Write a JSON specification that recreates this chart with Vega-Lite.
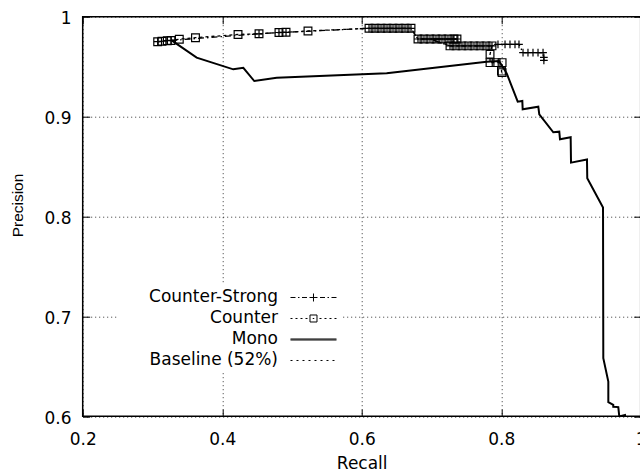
{
  "$schema": "https://vega.github.io/schema/vega-lite/v6.json",
  "width": 558,
  "height": 399.5,
  "autosize": {"type": "none"},
  "padding": {"left": 82.7, "top": 16.7, "right": 0, "bottom": 55.8},
  "background": "white",
  "config": {
    "view": {"stroke": "#000", "strokeWidth": 1.5},
    "font": "DejaVu Sans",
    "axis": {
      "labelFont": "DejaVu Sans",
      "labelFontSize": 17,
      "labelColor": "#000",
      "titleFont": "DejaVu Sans",
      "titleFontSize": 17,
      "titleFontWeight": "normal",
      "titleColor": "#000",
      "domain": false,
      "tickColor": "#000",
      "tickSize": -7,
      "tickWidth": 1,
      "gridColor": "#000",
      "gridDash": [1, 3],
      "gridOpacity": 0.8,
      "gridWidth": 1,
      "labelFlush": false,
      "labelOverlap": false
    }
  },
  "data": {
    "values": [
      {"series": "Mono", "i": 1, "recall": 0.328, "precision": 0.976},
      {"series": "Mono", "i": 2, "recall": 0.3634, "precision": 0.959},
      {"series": "Mono", "i": 3, "recall": 0.4159, "precision": 0.9473},
      {"series": "Mono", "i": 4, "recall": 0.4303, "precision": 0.9489},
      {"series": "Mono", "i": 5, "recall": 0.446, "precision": 0.9356},
      {"series": "Mono", "i": 6, "recall": 0.4781, "precision": 0.9389},
      {"series": "Mono", "i": 7, "recall": 0.6358, "precision": 0.9433},
      {"series": "Mono", "i": 8, "recall": 0.7792, "precision": 0.955},
      {"series": "Mono", "i": 9, "recall": 0.7969, "precision": 0.9557},
      {"series": "Mono", "i": 10, "recall": 0.8079, "precision": 0.9433},
      {"series": "Mono", "i": 11, "recall": 0.8237, "precision": 0.9149},
      {"series": "Mono", "i": 12, "recall": 0.8303, "precision": 0.9156},
      {"series": "Mono", "i": 13, "recall": 0.8308, "precision": 0.9073},
      {"series": "Mono", "i": 14, "recall": 0.8532, "precision": 0.9099},
      {"series": "Mono", "i": 15, "recall": 0.8546, "precision": 0.9023},
      {"series": "Mono", "i": 16, "recall": 0.8747, "precision": 0.8843},
      {"series": "Mono", "i": 17, "recall": 0.8833, "precision": 0.8849},
      {"series": "Mono", "i": 18, "recall": 0.8843, "precision": 0.8773},
      {"series": "Mono", "i": 19, "recall": 0.8996, "precision": 0.8793},
      {"series": "Mono", "i": 20, "recall": 0.9001, "precision": 0.8539},
      {"series": "Mono", "i": 21, "recall": 0.923, "precision": 0.8571},
      {"series": "Mono", "i": 22, "recall": 0.9234, "precision": 0.8383},
      {"series": "Mono", "i": 23, "recall": 0.946, "precision": 0.809},
      {"series": "Mono", "i": 24, "recall": 0.9464, "precision": 0.6581},
      {"series": "Mono", "i": 25, "recall": 0.9536, "precision": 0.6347},
      {"series": "Mono", "i": 26, "recall": 0.9536, "precision": 0.6141},
      {"series": "Mono", "i": 27, "recall": 0.9607, "precision": 0.6114},
      {"series": "Mono", "i": 28, "recall": 0.9607, "precision": 0.6094},
      {"series": "Mono", "i": 29, "recall": 0.9679, "precision": 0.6091},
      {"series": "Mono", "i": 30, "recall": 0.9693, "precision": 0.5998},
      {"series": "Mono", "i": 31, "recall": 0.9775, "precision": 0.6013},
      {"series": "Mono", "i": 32, "recall": 0.979, "precision": 0.591},

      {"series": "Counter", "i": 1, "recall": 0.3075, "precision": 0.975},
      {"series": "Counter", "i": 2, "recall": 0.3137, "precision": 0.9754},
      {"series": "Counter", "i": 3, "recall": 0.3213, "precision": 0.976},
      {"series": "Counter", "i": 4, "recall": 0.3266, "precision": 0.9762},
      {"series": "Counter", "i": 5, "recall": 0.3385, "precision": 0.9775},
      {"series": "Counter", "i": 6, "recall": 0.3617, "precision": 0.979},
      {"series": "Counter", "i": 7, "recall": 0.4227, "precision": 0.9822},
      {"series": "Counter", "i": 8, "recall": 0.4528, "precision": 0.9829},
      {"series": "Counter", "i": 9, "recall": 0.4814, "precision": 0.9842},
      {"series": "Counter", "i": 10, "recall": 0.4915, "precision": 0.9844},
      {"series": "Counter", "i": 11, "recall": 0.523, "precision": 0.9857},
      {"series": "Counter", "i": 12, "recall": 0.6105, "precision": 0.9884},
      {"series": "Counter", "i": 13, "recall": 0.6191, "precision": 0.9884},
      {"series": "Counter", "i": 14, "recall": 0.6277, "precision": 0.9884},
      {"series": "Counter", "i": 15, "recall": 0.6363, "precision": 0.9884},
      {"series": "Counter", "i": 16, "recall": 0.6449, "precision": 0.9884},
      {"series": "Counter", "i": 17, "recall": 0.6535, "precision": 0.9884},
      {"series": "Counter", "i": 18, "recall": 0.6621, "precision": 0.9884},
      {"series": "Counter", "i": 19, "recall": 0.6707, "precision": 0.9884},
      {"series": "Counter", "i": 20, "recall": 0.6807, "precision": 0.9777},
      {"series": "Counter", "i": 21, "recall": 0.6893, "precision": 0.9777},
      {"series": "Counter", "i": 22, "recall": 0.7065, "precision": 0.9777},
      {"series": "Counter", "i": 23, "recall": 0.7151, "precision": 0.9777},
      {"series": "Counter", "i": 24, "recall": 0.7237, "precision": 0.9777},
      {"series": "Counter", "i": 25, "recall": 0.7323, "precision": 0.9777},
      {"series": "Counter", "i": 26, "recall": 0.7366, "precision": 0.9777},
      {"series": "Counter", "i": 27, "recall": 0.6979, "precision": 0.9777},
      {"series": "Counter", "i": 28, "recall": 0.7266, "precision": 0.9708},
      {"series": "Counter", "i": 29, "recall": 0.7352, "precision": 0.9708},
      {"series": "Counter", "i": 30, "recall": 0.7438, "precision": 0.9708},
      {"series": "Counter", "i": 31, "recall": 0.7524, "precision": 0.9708},
      {"series": "Counter", "i": 32, "recall": 0.761, "precision": 0.9708},
      {"series": "Counter", "i": 33, "recall": 0.7696, "precision": 0.9708},
      {"series": "Counter", "i": 34, "recall": 0.7782, "precision": 0.9708},
      {"series": "Counter", "i": 35, "recall": 0.7868, "precision": 0.9708},
      {"series": "Counter", "i": 36, "recall": 0.784, "precision": 0.9624},
      {"series": "Counter", "i": 37, "recall": 0.784, "precision": 0.954},
      {"series": "Counter", "i": 38, "recall": 0.7927, "precision": 0.954},
      {"series": "Counter", "i": 39, "recall": 0.8013, "precision": 0.954},
      {"series": "Counter", "i": 40, "recall": 0.8004, "precision": 0.9455},
      {"series": "Counter", "i": 41, "recall": 0.8013, "precision": 0.944},

      {"series": "Counter-Strong", "i": 1, "recall": 0.3075, "precision": 0.975},
      {"series": "Counter-Strong", "i": 2, "recall": 0.3213, "precision": 0.976},
      {"series": "Counter-Strong", "i": 3, "recall": 0.3266, "precision": 0.9762},
      {"series": "Counter-Strong", "i": 4, "recall": 0.4528, "precision": 0.9829},
      {"series": "Counter-Strong", "i": 5, "recall": 0.4814, "precision": 0.9842},
      {"series": "Counter-Strong", "i": 6, "recall": 0.4915, "precision": 0.9844},
      {"series": "Counter-Strong", "i": 7, "recall": 0.6105, "precision": 0.9884},
      {"series": "Counter-Strong", "i": 8, "recall": 0.6191, "precision": 0.9884},
      {"series": "Counter-Strong", "i": 9, "recall": 0.6277, "precision": 0.9884},
      {"series": "Counter-Strong", "i": 10, "recall": 0.6363, "precision": 0.9884},
      {"series": "Counter-Strong", "i": 11, "recall": 0.6449, "precision": 0.9884},
      {"series": "Counter-Strong", "i": 12, "recall": 0.6535, "precision": 0.9884},
      {"series": "Counter-Strong", "i": 13, "recall": 0.6621, "precision": 0.9884},
      {"series": "Counter-Strong", "i": 14, "recall": 0.6707, "precision": 0.9884},
      {"series": "Counter-Strong", "i": 15, "recall": 0.6807, "precision": 0.9777},
      {"series": "Counter-Strong", "i": 16, "recall": 0.6893, "precision": 0.9777},
      {"series": "Counter-Strong", "i": 17, "recall": 0.7065, "precision": 0.9777},
      {"series": "Counter-Strong", "i": 18, "recall": 0.7151, "precision": 0.9777},
      {"series": "Counter-Strong", "i": 19, "recall": 0.7237, "precision": 0.9777},
      {"series": "Counter-Strong", "i": 20, "recall": 0.7323, "precision": 0.9777},
      {"series": "Counter-Strong", "i": 21, "recall": 0.7366, "precision": 0.9777},
      {"series": "Counter-Strong", "i": 22, "recall": 0.6979, "precision": 0.9777},
      {"series": "Counter-Strong", "i": 23, "recall": 0.7266, "precision": 0.9708},
      {"series": "Counter-Strong", "i": 24, "recall": 0.7352, "precision": 0.9708},
      {"series": "Counter-Strong", "i": 25, "recall": 0.7438, "precision": 0.9708},
      {"series": "Counter-Strong", "i": 26, "recall": 0.7524, "precision": 0.9708},
      {"series": "Counter-Strong", "i": 27, "recall": 0.761, "precision": 0.9708},
      {"series": "Counter-Strong", "i": 28, "recall": 0.7696, "precision": 0.9708},
      {"series": "Counter-Strong", "i": 29, "recall": 0.7782, "precision": 0.9708},
      {"series": "Counter-Strong", "i": 30, "recall": 0.7868, "precision": 0.9708},
      {"series": "Counter-Strong", "i": 31, "recall": 0.7954, "precision": 0.9722},
      {"series": "Counter-Strong", "i": 32, "recall": 0.8055, "precision": 0.9722},
      {"series": "Counter-Strong", "i": 33, "recall": 0.8126, "precision": 0.9722},
      {"series": "Counter-Strong", "i": 34, "recall": 0.8198, "precision": 0.9722},
      {"series": "Counter-Strong", "i": 35, "recall": 0.8255, "precision": 0.9722},
      {"series": "Counter-Strong", "i": 36, "recall": 0.8313, "precision": 0.964},
      {"series": "Counter-Strong", "i": 37, "recall": 0.8384, "precision": 0.964},
      {"series": "Counter-Strong", "i": 38, "recall": 0.8456, "precision": 0.964},
      {"series": "Counter-Strong", "i": 39, "recall": 0.8528, "precision": 0.964},
      {"series": "Counter-Strong", "i": 40, "recall": 0.86, "precision": 0.964},
      {"series": "Counter-Strong", "i": 41, "recall": 0.8612, "precision": 0.9592},
      {"series": "Counter-Strong", "i": 42, "recall": 0.8612, "precision": 0.9562},

      {"series": "Baseline (52%)", "i": 1, "recall": 0.2, "precision": 0.52},
      {"series": "Baseline (52%)", "i": 2, "recall": 1.0, "precision": 0.52}
    ]
  },
  "resolve": {
    "axis": {"x": "independent", "y": "independent"},
    "scale": {"shape": "independent"},
    "legend": {"shape": "independent"}
  },
  "layer": [
    {
      "transform": [{"filter": {"field": "series", "equal": "Mono"}}],
      "mark": {"type": "line", "clip": true, "color": "#000", "strokeWidth": 2},
      "encoding": {
        "x": {
          "field": "recall", "type": "quantitative",
          "scale": {"domain": [0.2, 1], "nice": false, "zero": false},
          "axis": {
            "orient": "bottom", "values": [0.2, 0.4, 0.6, 0.8, 1], "format": "~g",
            "title": "Recall", "titleY": 52.5, "titleBaseline": "alphabetic",
            "labelPadding": 22.5, "grid": true
          }
        },
        "y": {
          "field": "precision", "type": "quantitative",
          "scale": {"domain": [0.6, 1], "nice": false, "zero": false},
          "axis": {
            "orient": "left", "values": [0.6, 0.7, 0.8, 0.9, 1], "format": "~g",
            "title": "Precision", "titleFont": "Liberation Sans", "titleFontSize": 15.5,
            "titleX": -60.2, "titleY": 188.3, "titleAngle": -90,
            "titleAlign": "center", "titleBaseline": "alphabetic",
            "labelPadding": 18.7, "labelOffset": 2, "grid": true
          }
        },
        "order": {"field": "i", "type": "quantitative"}
      }
    },
    {
      "transform": [{"filter": {"field": "series", "oneOf": ["Counter-Strong", "Counter", "Baseline (52%)"]}}],
      "mark": {"type": "line", "clip": true, "color": "#000", "strokeWidth": 1.3},
      "encoding": {
        "x": {"field": "recall", "type": "quantitative", "scale": {"domain": [0.2, 1], "nice": false, "zero": false}, "axis": null},
        "y": {"field": "precision", "type": "quantitative", "scale": {"domain": [0.6, 1], "nice": false, "zero": false}, "axis": null},
        "strokeDash": {
          "field": "series", "type": "nominal",
          "scale": {
            "domain": ["Counter-Strong", "Counter", "Baseline (52%)"],
            "range": [[6, 3, 1.5, 3], [3, 3], [2, 4]]
          },
          "legend": null
        },
        "order": {"field": "i", "type": "quantitative"}
      }
    },
    {
      "transform": [{"filter": {"field": "series", "oneOf": ["Counter", "Counter-Strong"]}}],
      "mark": {"type": "point", "filled": false, "clip": true, "color": "#000", "strokeWidth": 1.2, "size": 60, "opacity": 1},
      "encoding": {
        "x": {
          "field": "recall", "type": "quantitative",
          "scale": {"domain": [0.2, 1], "nice": false, "zero": false},
          "axis": {"orient": "top", "values": [0.2, 0.4, 0.6, 0.8, 1], "labels": false, "grid": false, "title": null}
        },
        "y": {
          "field": "precision", "type": "quantitative",
          "scale": {"domain": [0.6, 1], "nice": false, "zero": false},
          "axis": {"orient": "right", "values": [0.6, 0.7, 0.8, 0.9, 1], "labels": false, "grid": false, "title": null}
        },
        "shape": {
          "field": "series", "type": "nominal",
          "scale": {"domain": ["Counter-Strong", "Counter"], "range": ["M-1,0H1M0,-1V1", "square"]},
          "legend": null
        }
      }
    },
    {
      "transform": [{"filter": {"field": "series", "equal": "Baseline (52%)"}}],
      "mark": {"type": "point", "filled": false, "clip": true, "color": "#000", "strokeWidth": 1, "size": 100, "opacity": 1},
      "encoding": {
        "x": {"field": "recall", "type": "quantitative", "scale": {"domain": [0.2, 1], "nice": false, "zero": false}, "axis": null},
        "y": {"field": "precision", "type": "quantitative", "scale": {"domain": [0.6, 1], "nice": false, "zero": false}, "axis": null},
        "shape": {
          "field": "series", "type": "nominal",
          "scale": {
            "domain": ["Counter-Strong", "Counter", "Mono", "Baseline (52%)"],
            "range": [
              "M-4.6,0H-3.6M-3.1,0H-2.8M-2.3,0H-1.3M-0.8,0H0.8M1.3,0H2.3M2.8,0H3.1M3.6,0H4.6M0,-0.8V0.8",
              "M-4.6,0H-4.2M-3.6,0H-3.2M-2.6,0H-2.2M-1.6,0H-1.2M-0.7,-0.7H0.7V0.7H-0.7ZM-0.15,0H0.15M1.2,0H1.6M2.2,0H2.6M3.2,0H3.6M4.2,0H4.6",
              "M-4.6,-0.1H4.6M-4.6,0.1H4.6",
              "M-4.6,0H-4.2M-3.4,0H-3.0M-2.2,0H-1.8M-1.0,0H-0.6M0.2,0H0.6M1.4,0H1.8M2.6,0H3.0M3.8,0H4.2"
            ]
          },
          "legend": {
            "orient": "none", "legendX": 34.3, "legendY": 268.3, "title": null,
            "padding": 4, "fillColor": "white", "rowPadding": 3,
            "symbolOffset": 184, "labelOffset": -44, "labelAlign": "right",
            "labelFont": "DejaVu Sans", "labelFontSize": 17, "labelColor": "#000",
            "labelLimit": 300, "symbolSize": 100, "symbolStrokeWidth": 1,
            "symbolStrokeColor": "#000", "symbolOpacity": 1
          }
        }
      }
    }
  ]
}
